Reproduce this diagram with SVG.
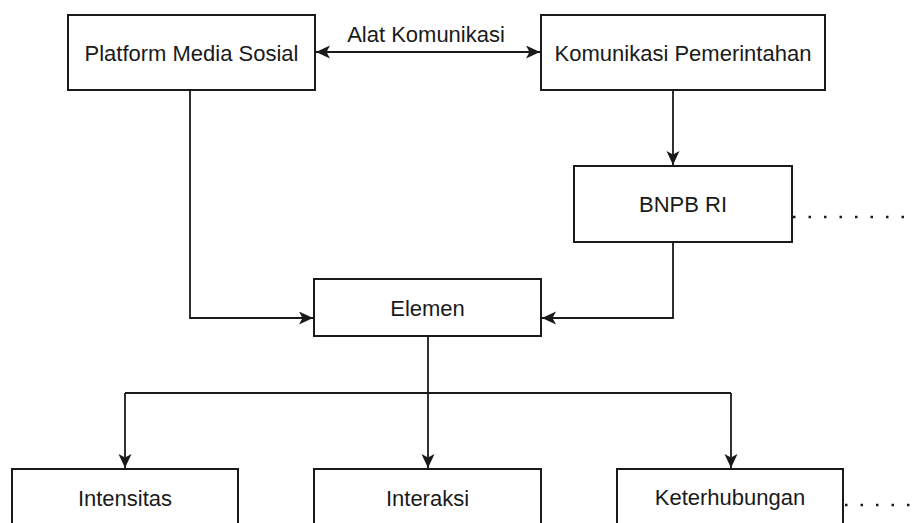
<svg xmlns="http://www.w3.org/2000/svg" width="912" height="523" viewBox="0 0 912 523">
<defs>
<style>
.box{fill:#ffffff;stroke:#1a1a1a;stroke-width:2}
.lbl{font-family:"Liberation Sans",Arial,sans-serif;font-size:22px;fill:#1a1a1a;text-anchor:middle}
.ln{fill:none;stroke:#1a1a1a;stroke-width:1.8}
.dot{fill:none;stroke:#1a1a1a;stroke-width:2.5;stroke-dasharray:2.5 13}
</style>
<marker id="arr" markerUnits="userSpaceOnUse" markerWidth="16" markerHeight="14" refX="14" refY="6.5" orient="auto-start-reverse" viewBox="0 0 16 14">
<path d="M0,0 L14,6.5 L0,13 L3.5,6.5 Z" fill="#1a1a1a"/>
</marker>
</defs>
<rect width="912" height="523" fill="#ffffff"/>
<g id="connectors">
<path class="ln" d="M316,52 L540,52" marker-start="url(#arr)" marker-end="url(#arr)"/>
<text class="lbl" x="426" y="42">Alat Komunikasi</text>
<path class="ln" d="M673,90 L673,165" marker-end="url(#arr)"/>
<path class="ln" d="M190,90 L190,318 L313,318" marker-end="url(#arr)"/>
<path class="ln" d="M673,242 L673,318 L542,318" marker-end="url(#arr)"/>
<path class="ln" d="M428,336 L428,468" marker-end="url(#arr)"/>
<path class="ln" d="M125,393 L731,393"/>
<path class="ln" d="M125,393 L125,468" marker-end="url(#arr)"/>
<path class="ln" d="M731,393 L731,468" marker-end="url(#arr)"/>
<path class="dot" d="M793,217 L912,217"/>
<path class="dot" d="M845,505 L912,505"/>
</g>
<g id="platform">
<rect class="box" x="68" y="15" width="247" height="75"/>
<text class="lbl" x="191.5" y="61">Platform Media Sosial</text>
</g>
<g id="komunikasi">
<rect class="box" x="541" y="15" width="284" height="75"/>
<text class="lbl" x="683" y="61">Komunikasi Pemerintahan</text>
</g>
<g id="bnpb">
<rect class="box" x="574" y="166" width="218" height="76"/>
<text class="lbl" x="683" y="212">BNPB RI</text>
</g>
<g id="elemen">
<rect class="box" x="314" y="279" width="227" height="57"/>
<text class="lbl" x="427.5" y="316">Elemen</text>
</g>
<g id="intensitas">
<rect class="box" x="12" y="469" width="226" height="70"/>
<text class="lbl" x="125" y="506">Intensitas</text>
</g>
<g id="interaksi">
<rect class="box" x="314" y="469" width="227" height="70"/>
<text class="lbl" x="427.5" y="506">Interaksi</text>
</g>
<g id="keterhubungan">
<rect class="box" x="617" y="469" width="226" height="70"/>
<text class="lbl" x="730" y="505">Keterhubungan</text>
</g>
</svg>
